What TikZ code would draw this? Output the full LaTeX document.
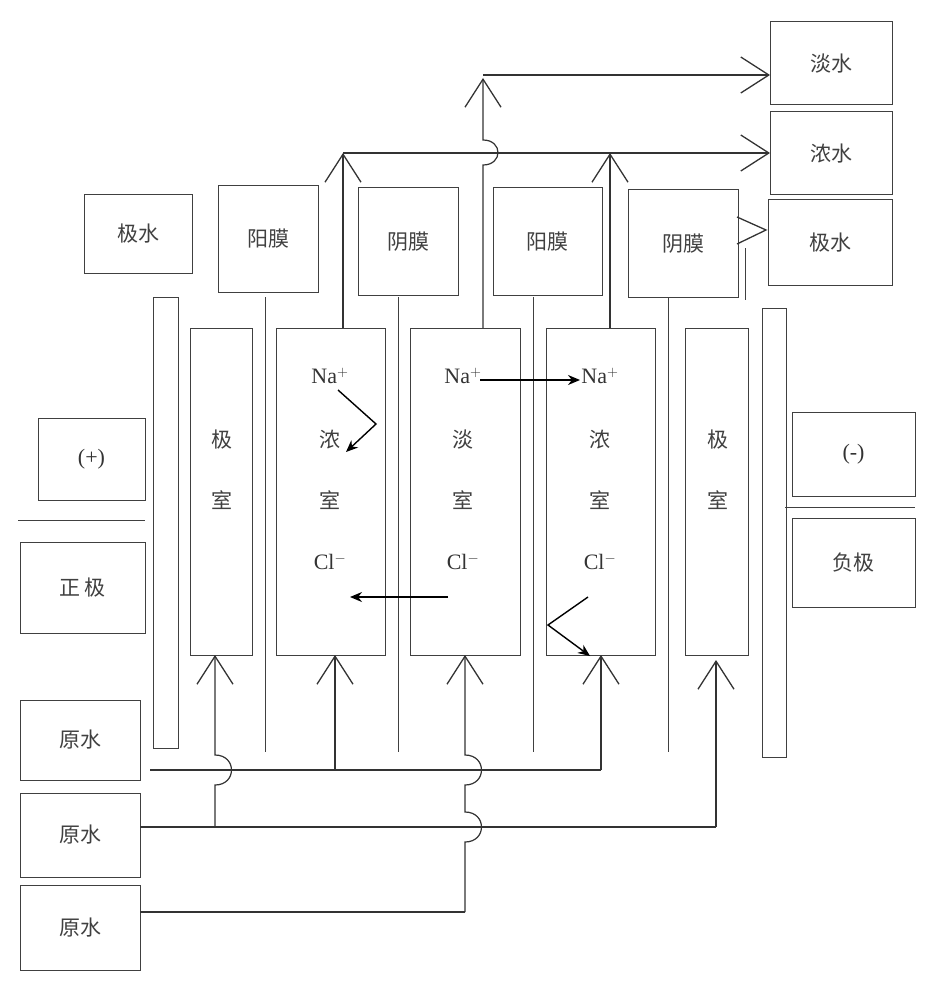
\documentclass[tikz,border=0pt]{standalone}
\usepackage{fontspec}
\setmainfont{Liberation Serif}
\newfontfamily\cjk{Noto Sans CJK SC}
\usetikzlibrary{arrows.meta}
\begin{document}
\begin{tikzpicture}[x=1pt,y=-1pt,line width=1.1pt,
  box/.style={draw=black!75,line width=1pt},
  lbl/.style={font=\cjk\fontsize{21}{23}\selectfont,text=black!75},
  ion/.style={font=\fontsize{22}{23}\selectfont,text=black!80},
  oa/.style={-{Straight Barb[length=28pt,width=36pt,line width=1.3pt]}},
  fa/.style={-{Stealth[length=12pt,width=10pt]},line width=1.4pt},
  pipe/.style={draw=black!80,line width=1.2pt}]
\useasboundingbox (0,0) rectangle (942,1000);
% right outlet boxes
\draw[box] (770,22) rectangle (892,105) node[midway,lbl] (dan) {淡水};
\draw[box] (770,112) rectangle (892,195) node[midway,lbl] (nong) {浓水};
\draw[box] (768,200) rectangle (892,285) node[midway,lbl] (jis) {极水};
% top boxes
\draw[box] (84,195) rectangle (192,273) node[midway,lbl] {极水};
\draw[box] (218,186) rectangle (318,292) node[midway,lbl] {阳膜};
\draw[box] (358,188) rectangle (458,295) node[midway,lbl] {阴膜};
\draw[box] (493,188) rectangle (602,295) node[midway,lbl] {阳膜};
\draw[box] (628,190) rectangle (738,297) node[midway,lbl] {阴膜};
% electrode plates
\draw[box] (153,297) rectangle (178,748);
\draw[box] (762,308) rectangle (786,757);
% chambers
\draw[box] (190,328) rectangle (252,655);
\draw[box] (276,328) rectangle (385,655);
\draw[box] (410,328) rectangle (520,655);
\draw[box] (546,328) rectangle (655,655);
\draw[box] (685,328) rectangle (748,655);
% membranes
\foreach \x in {265,398,533,668} \draw[box] (\x,297) -- (\x,752);
\draw[box] (745,248) -- (745,300);
% left/right boxes
\draw[box] (38,418) rectangle (145,500) node[midway,ion] {(+)};
\draw[box] (18,520) -- (145,520);
\draw[box] (20,542) rectangle (145,633) node[midway,lbl] {正\,极};
\draw[box] (792,412) rectangle (915,496) node[midway,ion] {(-)};
\draw[box] (785,507) -- (915,507);
\draw[box] (792,518) rectangle (915,607) node[midway,lbl] {负极};
\draw[box] (20,700) rectangle (140,780) node[midway,lbl] (y1) {原水};
\draw[box] (20,793) rectangle (140,877) node[midway,lbl] (y2) {原水};
\draw[box] (20,885) rectangle (140,970) node[midway,lbl] (y3) {原水};
% chamber texts
\node[lbl] at (222,440) {极}; \node[lbl] at (222,500) {室};
\node[lbl] at (718,440) {极}; \node[lbl] at (718,500) {室};
\foreach \x/\c in {330/浓,463/淡,600/浓}{
  \node[ion] at (\x,376) {Na$^+$};
  \node[lbl] at (\x,440) {\c};
  \node[lbl] at (\x,500) {室};
  \node[ion] at (\x,562) {Cl$^-$};
}
% ion arrows
\draw[fa] (338,390) -- (376,424) -- (346,452);
\draw[fa] (480,380) -- (580,380);
\draw[fa] (448,597) -- (350,597);
\draw[fa] (588,597) -- (548,625) -- (590,656);
% outlet pipes
\draw[pipe,oa] (343,153) -- (770,153);
\draw[pipe,oa] (343,328) -- (343,153);
\draw[pipe,oa] (610,328) -- (610,153);
\draw[pipe,oa] (483,75) -- (770,75);
\draw[pipe,oa] (483,328) -- (483,165) .. controls (503,165) and (503,140) .. (483,140) -- (483,78);
\draw[pipe,line width=1.3pt] (737,217) -- (766,230) -- (737,244);
% inlet pipes
\draw[pipe] (150,770) -- (601,770);
\draw[pipe,oa] (335,770) -- (335,655);
\draw[pipe,oa] (601,770) -- (601,655);
\draw[pipe] (140,827) -- (716,827);
\draw[pipe,oa] (716,827) -- (716,660);
\draw[pipe,oa] (215,827) -- (215,785) .. controls (237,785) and (237,755) .. (215,755) -- (215,655);
\draw[pipe] (140,912) -- (465,912);
\draw[pipe,oa] (465,912) -- (465,842) .. controls (487,842) and (487,812) .. (465,812)
   -- (465,785) .. controls (487,785) and (487,755) .. (465,755) -- (465,655);
\end{tikzpicture}
\end{document}
